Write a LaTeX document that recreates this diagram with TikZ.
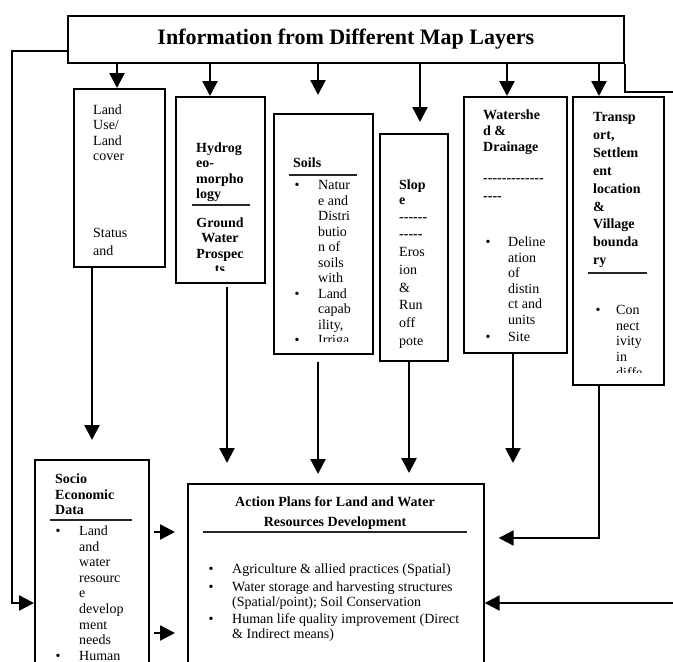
\documentclass[tikz,border=0pt]{standalone}
\usepackage{fontspec}
\setmainfont{Liberation Serif}
\usetikzlibrary{arrows.meta}
\newcommand\dsh{-\kern0pt}
\begin{document}
\begin{tikzpicture}[x=1pt,y=-1pt,
  box/.style={draw,line width=1.7pt,inner sep=0pt,anchor=north west},
  arr/.style={line width=2.4pt,-{Triangle[length=15pt,width=15pt]}},
  conn/.style={line width=2.2pt},
  rulel/.style={line width=1.6pt,black!85},
  tx/.style={anchor=base west,inner sep=0pt,font=\fontsize{14}{15.5}\selectfont},
  bx/.style={anchor=base west,inner sep=0pt,font=\bfseries\fontsize{14}{15.5}\selectfont},
  ctx/.style={anchor=base,inner sep=0pt,font=\bfseries\fontsize{14}{15.5}\selectfont},
  dot/.style={anchor=base,inner sep=0pt,font=\fontsize{14}{15.5}\selectfont},
]
\useasboundingbox (0,0) rectangle (673,662);

% boxes
\node[box,minimum width=556pt,minimum height=47pt,font=\bfseries\fontsize{22}{26}\selectfont] (hdr) at (67,15) {Information from Different Map Layers};
\node[box,minimum width=91pt,minimum height=178pt] (lu) at (73,88) {};
\node[box,minimum width=89pt,minimum height=186pt] (hy) at (175,96) {};
\node[box,minimum width=99pt,minimum height=240pt] (so) at (273,113) {};
\node[box,minimum width=68pt,minimum height=227pt] (sl) at (379,133) {};
\node[box,minimum width=103pt,minimum height=256pt] (ws) at (463,96) {};
\node[box,minimum width=91pt,minimum height=288pt] (tr) at (572,96) {};
\node[box,minimum width=114pt,minimum height=230pt] (se) at (34,459) {};
\node[box,minimum width=296pt,minimum height=220pt] (ac) at (187,483) {};

% land use
\begin{scope}
\clip (lu.north west) rectangle (lu.south east);
\foreach \t [count=\i from 0] in {Land,Use/,Land,cover}
  \node[tx] (lua\i) at (93,114.5+15.4*\i) {\t};
\foreach \t [count=\i from 0] in {Status,and}
  \node[tx] (lub\i) at (93,237.5+18*\i) {\t};
\end{scope}

% hydrogeomorphology
\foreach \t [count=\i from 0] in {Hydrog,eo-,morpho,logy}
  \node[bx] (hya\i) at (196,152.5+15.4*\i) {\t};
\draw[rulel] (192,205) -- (250,205);
\begin{scope}
\clip (hy.north west) rectangle (hy.east |- 0,270);
\foreach \t [count=\i from 0] in {Ground,Water,Prospec,ts}
  \node[ctx] (hyb\i) at (220,227.5+15.4*\i) {\t};
\end{scope}

% soils
\node[bx] (soh) at (293,167.5) {Soils};
\draw[rulel] (289,175) -- (357,175);
\begin{scope}
\clip (so.north west) rectangle (so.east |- 0,341);
\foreach \t [count=\i from 0] in {Natur,e and,Distri,butio,n of,soils,with,Land,capab,{ility,},Irriga}
  \node[tx] (sot\i) at (318,189.5+15.5*\i) {\t};
\foreach \i in {0,7,10}
  \node[dot] (sob\i) at (297,189.5+15.5*\i) {•};
\end{scope}

% slope
\begin{scope}
\clip (sl.north west) rectangle (sl.south east);
\node[bx] (sla0) at (399,189.5) {Slop};
\node[bx] (sla1) at (399,204.5) {e};
\node[bx] (sld0) at (399,221.5) {\dsh\dsh\dsh\dsh\dsh\dsh};
\node[bx] (sld1) at (399,238.5) {\dsh\dsh\dsh\dsh\dsh};
\foreach \t [count=\i from 0] in {Eros,ion,\&,Run,off,pote}
  \node[tx] (slt\i) at (399,256.5+17.8*\i) {\t};
\end{scope}

% watershed
\begin{scope}
\clip (ws.north west) rectangle (ws.south east);
\foreach \t [count=\i from 0] in {Watershe,d \&,Drainage}
  \node[bx] (wsa\i) at (483,119.5+16*\i) {\t};
\node[bx] (wsd0) at (483,182.5) {\dsh\dsh\dsh\dsh\dsh\dsh\dsh\dsh\dsh\dsh\dsh\dsh\dsh};
\node[bx] (wsd1) at (483,200.5) {\dsh\dsh\dsh\dsh};
\foreach \t [count=\i from 0] in {Deline,ation,of,distin,ct and,units}
  \node[tx] (wst\i) at (508,246.5+15.6*\i) {\t};
\node[tx] (wst6) at (508,341.5) {Site};
\node[dot] (wsb0) at (488,246.5) {•};
\node[dot] (wsb1) at (488,341.5) {•};
\end{scope}

% transport
\begin{scope}
\clip (tr.north west) rectangle (tr.east |- 0,372);
\foreach \t [count=\i from 0] in {Transp,{ort,},Settlem,ent,location,\&,Village,bounda,ry}
  \node[bx] (tra\i) at (593,121.5+17.9*\i) {\t};
\draw[rulel] (588,273) -- (647,273);
\node[dot] (trb0) at (598,314.5) {•};
\foreach \t [count=\i from 0] in {Con,nect,ivity,in,diffe}
  \node[tx] (trt\i) at (616,314.5+15.7*\i) {\t};
\end{scope}

% socio economic
\foreach \t [count=\i from 0] in {Socio,Economic,Data}
  \node[bx] (sea\i) at (55,483.5+15.5*\i) {\t};
\draw[rulel] (50,520) -- (132,520);
\foreach \t [count=\i from 0] in {Land,and,water,resourc,e,develop,ment,needs,Human}
  \node[tx] (set\i) at (79,535.5+15.6*\i) {\t};
\node[dot] (seb0) at (58,535.5) {•};
\node[dot] (seb1) at (58,660.3) {•};

% action plans
\node[ctx] (act0) at (335,506.5) {Action Plans for Land and Water};
\node[ctx] (act1) at (335,526.5) {Resources Development};
\draw[rulel] (203,532) -- (467,532);
\node[tx] (acl0) at (232,573.5) {Agriculture \& allied practices (Spatial)};
\node[tx] (acl1) at (232,591.5) {Water storage and harvesting structures};
\node[tx] (acl2) at (232,606.5) {(Spatial/point); Soil Conservation};
\node[tx] (acl3) at (232,623.5) {Human life quality improvement (Direct};
\node[tx] (acl4) at (232,638.5) {\& Indirect means)};
\node[dot] (acb0) at (211,573.5) {•};
\node[dot] (acb1) at (211,591.5) {•};
\node[dot] (acb2) at (211,623.5) {•};

% connectors from header
\draw[arr] (hdr.south -| 117,0) -- (lu.north -| 117,0);
\draw[arr] (hdr.south -| 210,0) -- (hy.north -| 210,0);
\draw[arr,shorten >=18pt] (hdr.south -| 318,0) -- (so.north -| 318,0);
\draw[arr,shorten >=11pt] (hdr.south -| 420,0) -- (sl.north -| 420,0);
\draw[arr] (hdr.south -| 507,0) -- (ws.north -| 507,0);
\draw[arr] (hdr.south -| 599,0) -- (tr.north -| 599,0);

\coordinate (lc) at (12,603);
\draw[arr] (hdr.west |- 0,51) -| (lc) -- (se.west |- lc);
\coordinate (rt) at (673,92);
\draw[conn] (hdr.south east) |- (rt);

% connectors to bottom boxes
\draw[arr,shorten >=19pt] (lu.south -| 92,0) -- (se.north -| 92,0);
\draw[arr,shorten <=3pt,shorten >=20pt] (hy.south -| 227,0) -- (ac.north -| 227,0);
\draw[arr,shorten <=7pt,shorten >=9pt] (so.south -| 318,0) -- (ac.north -| 318,0);
\draw[arr,shorten >=10pt] (sl.south -| 409,0) -- (ac.north -| 409,0);
\draw[arr,shorten >=20pt] (ws.south -| 513,0) -- (ac.north -| 513,0);
\draw[arr,shorten >=14pt] (tr.south -| 599,0) |- (ac.east |- 0,538);
\coordinate (rin) at (673,603);
\draw[arr] (rin) -- (ac.east |- rin);
\draw[arr,shorten <=4pt,shorten >=12pt] (se.east |- 0,532) -- (ac.west |- 0,532);
\draw[arr,shorten <=4pt,shorten >=12pt] (se.east |- 0,633) -- (ac.west |- 0,633);
\end{tikzpicture}
\end{document}
